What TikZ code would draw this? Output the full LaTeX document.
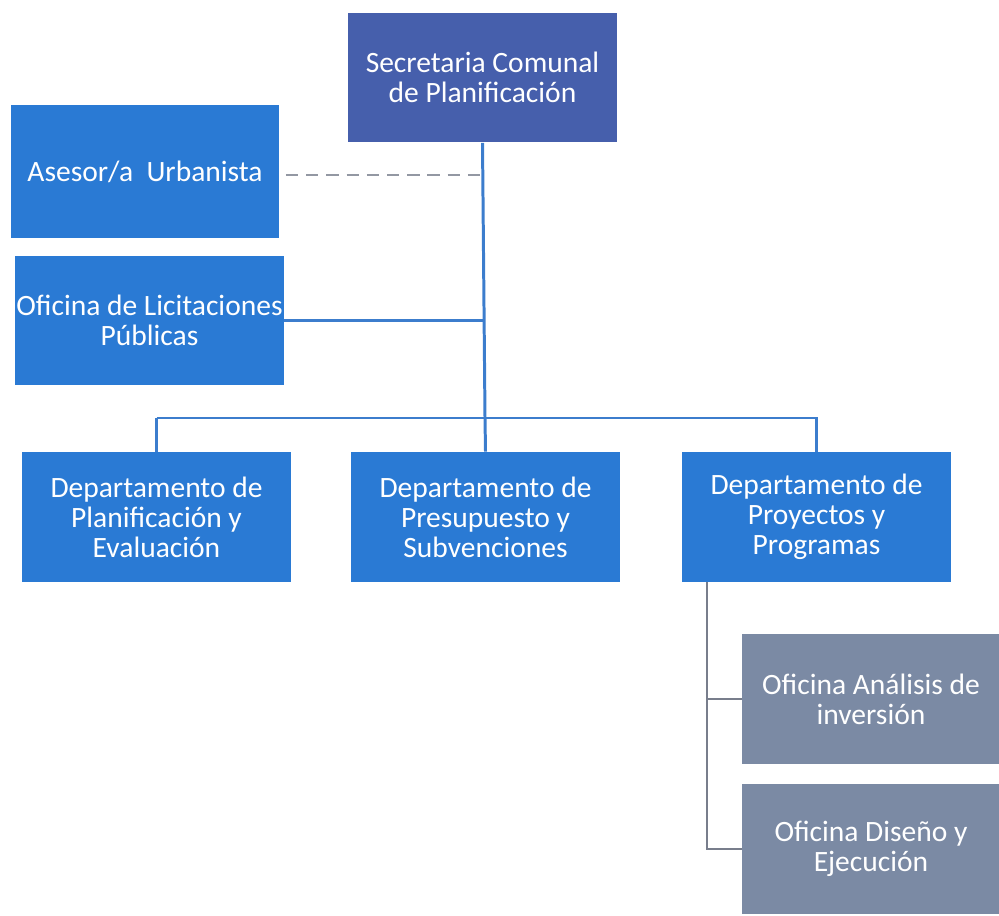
\documentclass[tikz,border=0pt]{standalone}
\usepackage{fontspec}
\setmainfont{Carlito}
\usetikzlibrary{positioning}

\definecolor{unitblue}{RGB}{42,122,212}
\definecolor{headblue}{RGB}{70,95,172}
\definecolor{officegray}{RGB}{123,138,164}
\definecolor{linkblue}{RGB}{60,125,205}
\definecolor{linkgray}{RGB}{120,126,140}

\tikzset{
  unit/.style = {rectangle, fill=unitblue, text=white, align=center,
                 minimum width=5.38cm, minimum height=2.6cm, inner sep=0pt,
                 font=\fontsize{16.8}{17}\selectfont},
  head/.style = {unit, fill=headblue},
  office/.style = {unit, fill=officegray, minimum width=5.16cm},
  link/.style = {draw=linkblue, line width=1.7pt},
  sublink/.style = {draw=linkgray, line width=1.5pt}
}

\begin{document}
\begin{tikzpicture}[x=0.02cm, y=-0.02cm]
\useasboundingbox (0,0) rectangle (999,915);
\node[head] (sec) at (482.5,77.5) {Secretaria Comunal\\de Planificación};
\node[unit, minimum height=2.66cm] (ase) at (145,171.5) {Asesor/a\ \ Urbanista};
\node[unit] (ofi) at (149.5,320.5) {Oficina de Licitaciones\\Públicas};
\node[unit] (d1) at (156.5,517) {Departamento de\\Planificación y\\Evaluación};
\node[unit] (d2) at (485.5,517) {Departamento de\\Presupuesto y\\Subvenciones};
\node[unit] (d3) at (816.5,517) {Departamento de\\Proyectos y\\Programas};
\node[office] (o1) at (871,699) {Oficina Análisis de\\inversión};
\node[office] (o2) at (871,849) {Oficina Diseño y\\Ejecución};
\coordinate (bus) at (485,418);
\coordinate (sub) at (707,582);

\draw[link] (sec.south) -- (bus);
\draw[link] (ofi.east) -- (ofi.east -| bus);
\draw[link, draw=linkgray!80, line width=1.2pt, dash pattern=on 7pt off 4.5pt]
  ([xshift=3.5pt,yshift=-2pt]ase.east) -- ([yshift=-2pt]ase.east -| bus);
\draw[link] (bus -| d1.north) -- (d1.north);
\draw[link] (bus -| d1.north) -- (bus -| d3.north) -- (d3.north);
\draw[link] (bus) -- (d2.north);
\draw[sublink] (sub) -- (sub |- o2.west) -- (o2.west);
\draw[sublink] (sub |- o1.west) -- (o1.west);
\end{tikzpicture}
\end{document}
